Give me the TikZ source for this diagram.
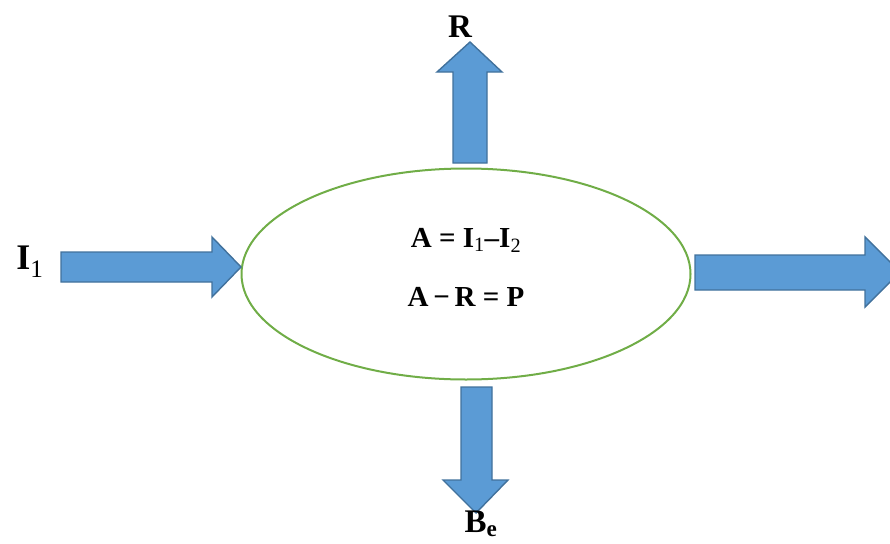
\documentclass[tikz,border=0pt]{standalone}
\usepackage{fontspec}
\setmainfont{Liberation Serif}
\usetikzlibrary{shapes.geometric}
\definecolor{arrowfill}{HTML}{5B9BD5}
\definecolor{arrowline}{HTML}{41719C}
\definecolor{ringgreen}{HTML}{70AD47}

\begin{document}
\begin{tikzpicture}[x=1pt, y=-1pt,
  blockarrow/.style={fill=arrowfill, draw=arrowline, line width=1.4pt, line join=miter},
  lbl/.style={font=\fontsize{33}{36}\selectfont\bfseries, inner sep=0pt},
  eqn/.style={font=\fontsize{29}{34}\selectfont\bfseries, inner sep=0pt}]

\useasboundingbox (0,0) rectangle (890,543);

% balance
\node[draw=ringgreen, line width=2pt, ellipse, minimum width=449pt, minimum height=211pt, inner sep=0pt] (ring) at (466,274) {};
\node[eqn] (eq1) at (466,240) {A = I\textsubscript{\mdseries 1}--I\textsubscript{\mdseries 2}};
\node[eqn] (eq2) at (466,297) {A\,−\,R = P};

% flows
\draw[blockarrow] (61,252) -- (212,252) -- (212,237) -- (241,267) -- (212,297) -- (212,282) -- (61,282) -- cycle;
\draw[blockarrow] (453,163) -- (453,72) -- (437,72) -- (470,42) -- (502,72) -- (487,72) -- (487,163) -- cycle;
\draw[blockarrow] (461,387) -- (492,387) -- (492,480) -- (508,480) -- (476,513) -- (443,480) -- (461,480) -- cycle;
\draw[blockarrow] (695,255) -- (865,255) -- (865,237) -- (900,272) -- (865,307) -- (865,290) -- (695,290) -- cycle;

\node[lbl, font=\fontsize{36}{40}\selectfont\bfseries] (in) at (30,262) {I\textsubscript{\mdseries 1}};
\node[lbl] (out) at (460,27) {R};
\node[lbl] (be) at (481,524) {B\textsubscript{e}};

\end{tikzpicture}
\end{document}
